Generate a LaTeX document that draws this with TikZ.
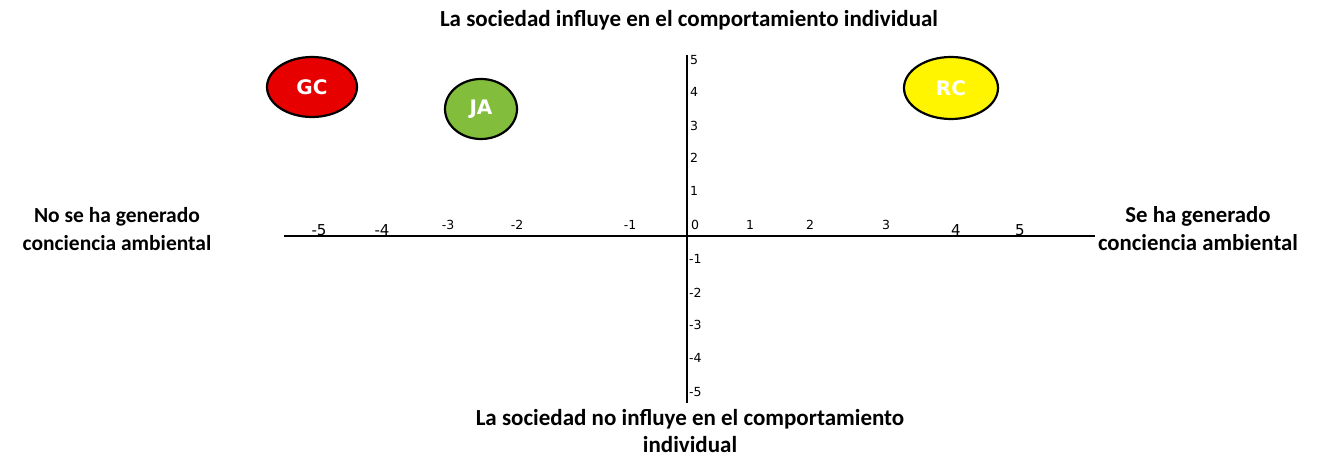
\documentclass[tikz,border=0pt]{standalone}
\usepackage{fontspec}
\setmainfont{Carlito}
\newfontfamily\tickfont{DejaVu Sans}
\newfontfamily\actorfont{DejaVu Sans}
\tikzset{
  axislabel/.style={font=\bfseries\fontsize{23}{27.5}\selectfont, align=center},
  sidelabel/.style={font=\bfseries\fontsize{21.5}{28}\selectfont, align=center},
  tick/.style={font=\tickfont\fontsize{12.5}{14}\selectfont, inner sep=0pt},
  bigtick/.style={font=\tickfont\fontsize{15}{17}\selectfont, inner sep=0pt},
  actor/.style={ellipse, draw=black, line width=2.2pt, inner sep=0pt,
    font=\actorfont\bfseries\fontsize{20}{22}\selectfont, text=white},
}
\usetikzlibrary{shapes.geometric}
\begin{document}
\begin{tikzpicture}[x=1pt, y=-1pt]
\useasboundingbox (0,0) rectangle (1318,457);

% axes
\coordinate (xl) at (284, 236);
\coordinate (xr) at (1095, 236);
\coordinate (yt) at (687, 55);
\coordinate (yb) at (687, 403);

\begin{scope}[style={line width=2.3pt}]
	\draw (xl) -- (xr);
	\draw (yt) -- (yb);
\end{scope}

% axis titles
\node[axislabel] (top) at (689, 20) {La sociedad influye en el comportamiento individual};
\node[axislabel] (bottom) at (690, 431) {La sociedad no influye en el comportamiento\\individual};
\begin{scope}[every node/.style={sidelabel}]
	\node (left) at (117, 229) {No se ha generado\\conciencia ambiental};
	\node[font=\bfseries\fontsize{22.8}{28}\selectfont] (right) at (1198, 229) {Se ha generado\\conciencia ambiental};
\end{scope}

% horizontal ticks
\node[bigtick] (hm5) at (319, 230) {-5};
\node[bigtick] (hm4) at (382, 230) {-4};
\node[tick] (hm3) at (448, 225) {-3};
\node[tick] (hm2) at (517, 225) {-2};
\node[tick] (hm1) at (630, 225) {-1};
\node[tick] (h0) at (695, 225) {0};
\node[tick] (h1) at (750, 225) {1};
\node[tick] (h2) at (810, 225) {2};
\node[tick] (h3) at (886, 225) {3};
\node[bigtick] (h4) at (956, 230) {4};
\node[bigtick] (h5) at (1020, 230) {5};

% vertical ticks
\begin{scope}[every node/.style={tick, anchor=west}]
	\node (v5) at (690, 60) {5};
	\node (v4) at (690, 92) {4};
	\node (v3) at (690, 126) {3};
	\node (v2) at (690, 158) {2};
	\node (v1) at (690, 191) {1};
	\node (vm1) at (689, 259) {-1};
	\node (vm2) at (689, 293) {-2};
	\node (vm3) at (689, 325) {-3};
	\node (vm4) at (689, 358) {-4};
	\node (vm5) at (689, 392) {-5};
\end{scope}

% actors
\node[actor, fill={rgb,255:red,230;green,0;blue,0}, minimum width=90, minimum height=60] (gc) at (312, 87) {GC};
\node[actor, fill={rgb,255:red,130;green,190;blue,60}, minimum width=72, minimum height=60] (ja) at (481, 109) {JA};
\node[actor, fill={rgb,255:red,255;green,245;blue,0}, minimum width=94, minimum height=62] (rc) at (951, 88) {RC};

\end{tikzpicture}
\end{document}
